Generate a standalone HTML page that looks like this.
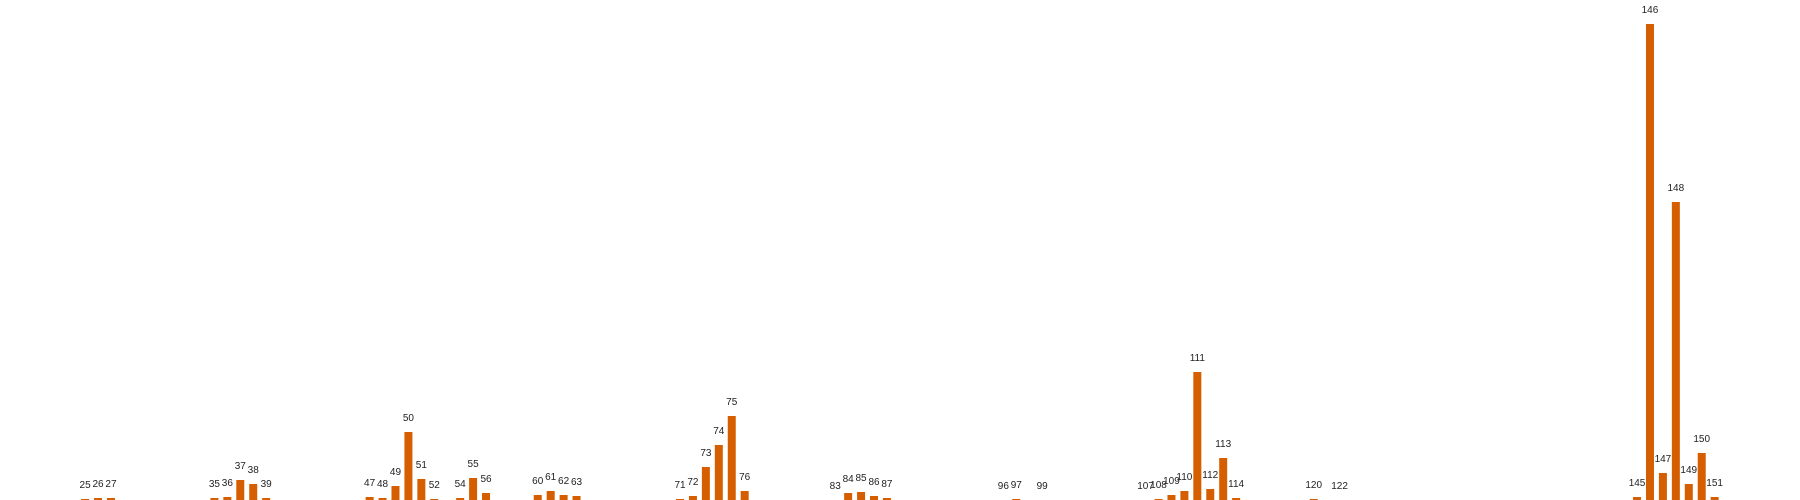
<!DOCTYPE html>
<html><head><meta charset="utf-8"><style>
html,body{margin:0;padding:0;background:#fff}
svg{display:block}
text{font-family:"Liberation Sans",sans-serif;font-size:10px;fill:#222}
</style></head><body>
<svg id="chart" width="1800" height="500" viewBox="0 0 1800 500"></svg>
<script>
const categories=[25,26,27,35,36,37,38,39,47,48,49,50,51,52,54,55,56,60,61,62,63,71,72,73,74,75,76,83,84,85,86,87,96,97,99,107,108,109,110,111,112,113,114,120,122,145,146,147,148,149,150,151];
const values=[1,2,2,2,3,20,16,2,3,2,14,68,21,1,2,22,7,5,9,5,4,1,4,33,55,84,9,0,7,8,4,2,0,1,0,0,1,5,9,128,11,42,2,1,0,3,476,27,298,16,47,3];
const xMin=18.42,xMax=157.6,yMax=476;
const W=1800,base=500,plotH=476;
const xs=i=>(i-xMin)/(xMax-xMin)*W;
const ys=v=>base-v/yMax*plotH;
const svg=document.getElementById('chart');
const NS='http://www.w3.org/2000/svg';
categories.forEach((c,k)=>{
  const v=values[k],cx=xs(c),y=ys(v);
  const r=document.createElementNS(NS,'rect');
  r.setAttribute('x',cx-4);r.setAttribute('y',y);
  r.setAttribute('width',8);r.setAttribute('height',base-y);
  r.setAttribute('fill','#d55e00');
  
  
  svg.appendChild(r);
  const t=document.createElementNS(NS,'text');
  t.setAttribute('x',cx);t.setAttribute('y',y-11);
  t.setAttribute('text-anchor','middle');
  t.textContent=c;
  
  
  svg.appendChild(t);
});
</script>
</body></html>
